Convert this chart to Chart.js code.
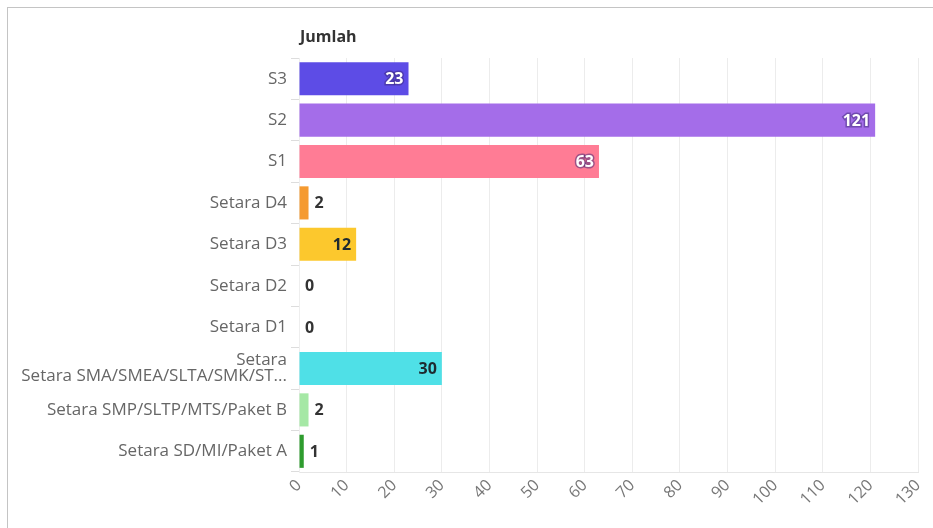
<!DOCTYPE html>
<html>
<head>
<meta charset="utf-8">
<script src="https://cdn.jsdelivr.net/npm/chart.js@4"></script>
<style>
html,body{margin:0;padding:0;background:#fff;overflow:hidden;}
#frame{position:absolute;left:7px;top:7px;width:1000px;height:600px;border-left:1.5px solid #c4c4c4;border-top:1.5px solid #c4c4c4;}
#wrap{position:absolute;left:0;top:0;width:933px;height:528px;}
</style>
</head>
<body>
<div id="frame"></div>
<div id="wrap"><canvas id="c" width="933" height="528"></canvas></div>
<script>
const categories = ["S3","S2","S1","Setara D4","Setara D3","Setara D2","Setara D1",["Setara","Setara SMA/SMEA/SLTA/SMK/ST..."],"Setara SMP/SLTP/MTS/Paket B","Setara SD/MI/Paket A"];
const values = [23,121,63,2,12,0,0,30,2,1];
const barColors = ["#5d4ce6","#a46de9","#ff7c95","#f59a30","#fcc82d","#cccccc","#cccccc","#4fe0e7","#a5e8a5","#2e9c2e"];
const labelStyles = ["light","light","light","out","dark","out","out","dark","out","out"];
const axisTitle = "Jumlah";

const FONT = "'Open Sans', sans-serif";

const titlePlugin = {
  id: 'topTitle',
  afterDraw(chart){
    const ctx = chart.ctx;
    ctx.save();
    ctx.font = "bold 16px " + FONT;
    ctx.fillStyle = "#333";
    ctx.textAlign = "left";
    ctx.textBaseline = "middle";
    ctx.fillText(axisTitle, chart.chartArea.left + 1, 37);
    ctx.restore();
  }
};

const valuePlugin = {
  id: 'valueLabels',
  afterDatasetsDraw(chart){
    const ctx = chart.ctx;
    const meta = chart.getDatasetMeta(0);
    ctx.save();
    ctx.font = "bold 16px " + FONT;
    ctx.textBaseline = "middle";
    meta.data.forEach((bar, i) => {
      const v = values[i];
      const st = labelStyles[i];
      const txt = String(v);
      if (st === "out") {
        ctx.textAlign = "left";
        ctx.fillStyle = "#333";
        ctx.fillText(txt, bar.x + 6, bar.y + 1);
      } else if (st === "light") {
        ctx.textAlign = "right";
        ctx.lineWidth = 3;
        ctx.strokeStyle = "rgba(60,40,120,0.5)";
        ctx.strokeText(txt, bar.x - 5, bar.y + 1);
        ctx.fillStyle = "#fff";
        ctx.fillText(txt, bar.x - 5, bar.y + 1);
      } else {
        ctx.textAlign = "right";
        ctx.fillStyle = "#1e2a30";
        ctx.fillText(txt, bar.x - 5, bar.y + 1);
      }
    });
    ctx.restore();
  }
};

new Chart(document.getElementById('c'), {
  type: 'bar',
  data: {
    labels: categories,
    datasets: [{
      data: values,
      backgroundColor: barColors,
      borderWidth: 0,
      barPercentage: 0.8,
      categoryPercentage: 1.0
    }]
  },
  options: {
    indexAxis: 'y',
    responsive: false,
    animation: false,
    layout: { padding: { left: 0, top: 58, right: 15, bottom: 0 } },
    plugins: { legend: { display: false }, tooltip: { enabled: false }, title: { display: false } },
    scales: {
      x: {
        min: 0, max: 130,
        ticks: { stepSize: 10, minRotation: 45, maxRotation: 45, color: "#777", font: { family: FONT, size: 16 }, padding: 4 },
        grid: { color: "#ececec", lineWidth: 1, drawTicks: false },
        border: { color: "#e6e6e6" },
        afterFit(s){ s.height = 56; s.paddingRight = 0; s.paddingLeft = 0; }
      },
      y: {
        ticks: { color: "#666", font: { family: FONT, size: 17, lineHeight: 0.95 }, padding: 4, autoSkip: false },
        grid: { display: true, drawOnChartArea: false, drawTicks: true, tickLength: 8, color: "#dddddd" },
        border: { color: "#eeeeee" },
        afterFit(s){ s.width = 299; }
      }
    }
  },
  plugins: [titlePlugin, valuePlugin]
});
</script>
</body>
</html>
